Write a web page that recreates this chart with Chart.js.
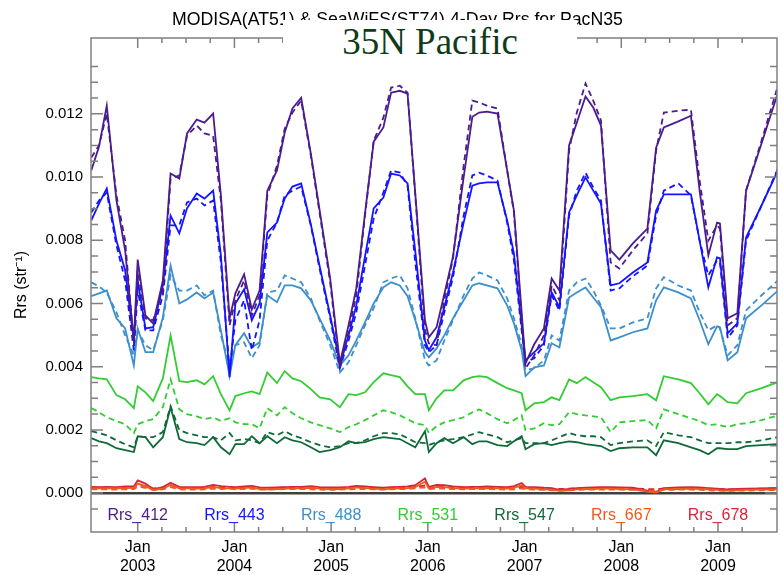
<!DOCTYPE html>
<html>
<head>
<meta charset="utf-8">
<script src="https://cdn.jsdelivr.net/npm/chart.js@4/dist/chart.umd.min.js"></script>
<style>
  body { margin: 0; background: #fff; }
  #wrap { position: relative; width: 783px; height: 575px; overflow: hidden; }
  #title { position: absolute; left: 0; width: 795px; top: 9px; text-align: center; white-space: nowrap;
           font: 17.7px "Liberation Sans", Arial, sans-serif; color: #000; }
  #stamp { position: absolute; left: 283px; top: 20px; width: 294px; height: 52px; background: #fff;
           text-align: center; line-height: 52px; font: 37px "Liberation Serif", "Times New Roman", serif; color: #103b1a; }
</style>
</head>
<body>
<div id="wrap">
  <canvas id="rrsChart" width="783" height="575"></canvas>
  <div id="title">MODISA(AT51) &amp; SeaWiFS(ST74) 4-Day Rrs for PacN35</div>
  <div id="stamp">35N Pacific</div>
</div>
<script>
// dates (decimal years) of the composites
const dates = [
  2002.52, 2002.60, 2002.68, 2002.78, 2002.87, 2002.96, 2003.00, 2003.08, 2003.16, 2003.26,
  2003.34, 2003.43, 2003.51, 2003.61, 2003.69, 2003.78, 2003.86, 2003.95, 2004.01, 2004.10,
  2004.18, 2004.26, 2004.34, 2004.44, 2004.52, 2004.60, 2004.69, 2004.79, 2004.88, 2004.99,
  2005.09, 2005.18, 2005.26, 2005.35, 2005.44, 2005.54, 2005.62, 2005.71, 2005.79, 2005.87,
  2005.97, 2006.01, 2006.09, 2006.17, 2006.26, 2006.37, 2006.46, 2006.53, 2006.61, 2006.72,
  2006.82, 2006.89, 2006.97, 2007.01, 2007.10, 2007.20, 2007.28, 2007.36, 2007.46, 2007.54,
  2007.63, 2007.71, 2007.79, 2007.89, 2007.98, 2008.12, 2008.27, 2008.36, 2008.44, 2008.59,
  2008.72, 2008.81, 2008.90, 2008.99, 2009.02, 2009.10, 2009.20, 2009.29, 2009.45, 2009.62
];

// MODISA (solid) and SeaWiFS (dashed) Rrs, str^-1
const rrs412Modis = [
  .01021,.01097,.01226,.00926,.00768,.00483,.00739,.00562,.00537,.00673,
  .01011,.00995,.01138,.01182,.01172,.01201,.00942,.00553,.00632,.00692,
  .00581,.00641,.00957,.01021,.01141,.01217,.01251,.01074,.00897,.00679,
  .00411,.00531,.00648,.00885,.01112,.01157,.01267,.01273,.01264,.00948,
  .00547,.00493,.00525,.00629,.00749,.00999,.01191,.01204,.01207,.01201,
  .01021,.00894,.00572,.00411,.00471,.00521,.00679,.00641,.01100,.01172,
  .01255,.01220,.01163,.00768,.00739,.00790,.00837,.01093,.01157,.01176,
  .01194,.00957,.00752,.00856,.00853,.00553,.00569,.00957,.01106,.01267
];
const rrs412Seawifs = [
  .01062,.01100,.01201,.00942,.00799,.00468,.00705,.00553,.00547,.00641,
  .00995,.01005,.01131,.01163,.01138,.01131,.00926,.00531,.00610,.00673,
  .00562,.00626,.00942,.01036,.01153,.01204,.01242,.01068,.00888,.00667,
  .00395,.00509,.00626,.00878,.01115,.01188,.01283,.01289,.01267,.00942,
  .00515,.00474,.00468,.00610,.00743,.01036,.01242,.01236,.01226,.01217,
  .01021,.00888,.00547,.00395,.00436,.00499,.00657,.00610,.01084,.01204,
  .01296,.01242,.01179,.00730,.00711,.00768,.00822,.01084,.01204,.01210,
  .01213,.00989,.00799,.00847,.00837,.00531,.00553,.00957,.01115,.01289
];
const rrs443Modis = [
  .00863,.00916,.00964,.00799,.00705,.00480,.00673,.00521,.00525,.00657,
  .00878,.00822,.00901,.00948,.00932,.00957,.00752,.00367,.00600,.00645,
  .00547,.00600,.00825,.00856,.00932,.00970,.00980,.00850,.00720,.00562,
  .00411,.00499,.00594,.00749,.00901,.00935,.01011,.01005,.00980,.00765,
  .00483,.00452,.00493,.00588,.00698,.00856,.00973,.00980,.00983,.00983,
  .00863,.00758,.00531,.00420,.00446,.00474,.00635,.00588,.00888,.00942,
  .00999,.00957,.00916,.00657,.00664,.00698,.00730,.00894,.00945,.00945,
  .00945,.00799,.00651,.00746,.00743,.00506,.00537,.00809,.00910,.01021
];
const rrs443Seawifs = [
  .00888,.00926,.00951,.00784,.00673,.00452,.00641,.00515,.00515,.00626,
  .00847,.00847,.00920,.00932,.00910,.00926,.00730,.00389,.00547,.00610,
  .00452,.00547,.00799,.00856,.00942,.00957,.00970,.00847,.00711,.00553,
  .00395,.00483,.00572,.00720,.00869,.00951,.01021,.01014,.00973,.00730,
  .00468,.00446,.00468,.00572,.00683,.00878,.01005,.01014,.01005,.00989,
  .00856,.00736,.00515,.00414,.00427,.00468,.00626,.00578,.00878,.00957,
  .01014,.00967,.00926,.00641,.00648,.00686,.00720,.00878,.00957,.00980,
  .00942,.00799,.00689,.00736,.00730,.00490,.00531,.00799,.00910,.01027
];
const rrs488Modis = [
  .00623,.00632,.00641,.00553,.00521,.00404,.00521,.00446,.00446,.00556,
  .00720,.00600,.00613,.00635,.00616,.00635,.00515,.00370,.00468,.00506,
  .00461,.00477,.00626,.00604,.00657,.00657,.00648,.00610,.00553,.00483,
  .00404,.00436,.00483,.00540,.00600,.00651,.00667,.00657,.00623,.00547,
  .00446,.00430,.00458,.00499,.00553,.00610,.00657,.00664,.00657,.00648,
  .00594,.00537,.00452,.00370,.00398,.00404,.00474,.00461,.00619,.00635,
  .00651,.00619,.00588,.00483,.00493,.00509,.00521,.00610,.00651,.00635,
  .00616,.00547,.00471,.00528,.00525,.00420,.00446,.00553,.00594,.00641
];
const rrs488Seawifs = [
  .00667,.00654,.00635,.00572,.00499,.00436,.00515,.00468,.00452,.00547,
  .00689,.00641,.00641,.00657,.00626,.00641,.00499,.00404,.00468,.00477,
  .00427,.00468,.00635,.00641,.00689,.00679,.00667,.00616,.00547,.00468,
  .00382,.00414,.00468,.00531,.00585,.00667,.00679,.00689,.00648,.00553,
  .00420,.00404,.00420,.00483,.00547,.00626,.00679,.00698,.00689,.00673,
  .00616,.00553,.00468,.00389,.00395,.00420,.00499,.00483,.00641,.00667,
  .00679,.00641,.00594,.00521,.00521,.00540,.00553,.00648,.00683,.00657,
  .00641,.00572,.00515,.00531,.00521,.00436,.00468,.00578,.00626,.00673
];
const rrs531Modis = [
  .00367,.00363,.00360,.00310,.00297,.00269,.00338,.00319,.00291,.00363,
  .00499,.00354,.00351,.00357,.00344,.00370,.00313,.00262,.00307,.00316,
  .00322,.00313,.00382,.00348,.00386,.00363,.00354,.00329,.00303,.00297,
  .00272,.00313,.00310,.00319,.00351,.00379,.00373,.00367,.00338,.00313,
  .00313,.00262,.00300,.00325,.00325,.00357,.00367,.00370,.00367,.00348,
  .00332,.00325,.00316,.00262,.00284,.00288,.00303,.00294,.00360,.00348,
  .00367,.00351,.00335,.00294,.00303,.00307,.00313,.00294,.00370,.00360,
  .00348,.00316,.00281,.00313,.00307,.00288,.00284,.00316,.00332,.00351
];
const rrs531Seawifs = [
  .00269,.00256,.00240,.00228,.00218,.00190,.00218,.00228,.00234,.00272,
  .00360,.00265,.00250,.00243,.00234,.00240,.00228,.00237,.00224,.00218,
  .00218,.00205,.00269,.00246,.00272,.00253,.00237,.00224,.00215,.00205,
  .00193,.00209,.00218,.00231,.00246,.00262,.00256,.00246,.00234,.00221,
  .00215,.00190,.00212,.00224,.00231,.00240,.00256,.00265,.00253,.00234,
  .00221,.00231,.00246,.00199,.00205,.00221,.00215,.00218,.00256,.00250,
  .00246,.00243,.00240,.00193,.00224,.00228,.00231,.00205,.00265,.00250,
  .00237,.00228,.00215,.00218,.00215,.00209,.00218,.00221,.00231,.00246
];
const rrs547Modis = [
  .00174,.00164,.00158,.00142,.00136,.00130,.00180,.00177,.00145,.00177,
  .00272,.00171,.00161,.00158,.00152,.00177,.00145,.00123,.00155,.00155,
  .00180,.00158,.00180,.00158,.00177,.00167,.00161,.00145,.00130,.00136,
  .00145,.00164,.00158,.00161,.00171,.00177,.00174,.00171,.00158,.00145,
  .00196,.00130,.00158,.00174,.00158,.00177,.00155,.00164,.00164,.00152,
  .00149,.00164,.00180,.00139,.00155,.00158,.00152,.00158,.00164,.00161,
  .00155,.00152,.00149,.00133,.00142,.00145,.00145,.00120,.00167,.00158,
  .00145,.00136,.00123,.00142,.00142,.00139,.00139,.00149,.00152,.00155
];
const rrs547Seawifs = [
  .00196,.00190,.00183,.00167,.00155,.00145,.00180,.00177,.00177,.00193,
  .00275,.00199,.00190,.00183,.00177,.00177,.00167,.00190,.00167,.00171,
  .00167,.00158,.00193,.00183,.00196,.00183,.00174,.00161,.00152,.00145,
  .00149,.00158,.00158,.00167,.00180,.00190,.00190,.00186,.00174,.00161,
  .00158,.00152,.00161,.00167,.00171,.00177,.00186,.00193,.00186,.00177,
  .00161,.00167,.00174,.00158,.00158,.00158,.00167,.00177,.00190,.00183,
  .00180,.00180,.00177,.00152,.00158,.00164,.00167,.00149,.00193,.00183,
  .00177,.00167,.00158,.00158,.00158,.00158,.00161,.00161,.00167,.00177
];
const rrs667Modis = [
  .00016,.00015,.00016,.00015,.00016,.00017,.00030,.00022,.00010,.00014,
  .00026,.00015,.00015,.00014,.00015,.00020,.00016,.00015,.00014,.00016,
  .00018,.00013,.00012,.00013,.00014,.00015,.00015,.00017,.00014,.00013,
  .00013,.00015,.00018,.00016,.00014,.00012,.00014,.00015,.00016,.00019,
  .00036,.00015,.00020,.00019,.00016,.00014,.00015,.00015,.00016,.00015,
  .00014,.00017,.00025,.00015,.00014,.00012,.00011,.00007,.00009,.00012,
  .00013,.00013,.00014,.00014,.00013,.00012,.00005,.00002,.00012,.00013,
  .00014,.00013,.00012,.00010,.00009,.00008,.00009,.00010,.00011,.00012
];
const rrs667Seawifs = [
  .00013,.00012,.00012,.00011,.00012,.00013,.00020,.00017,.00010,.00012,
  .00019,.00012,.00011,.00011,.00012,.00014,.00013,.00014,.00012,.00013,
  .00014,.00011,.00011,.00012,.00013,.00013,.00013,.00012,.00011,.00010,
  .00011,.00012,.00013,.00013,.00012,.00011,.00012,.00013,.00013,.00015,
  .00018,.00013,.00015,.00014,.00013,.00012,.00013,.00013,.00013,.00012,
  .00011,.00012,.00015,.00012,.00011,.00010,.00009,.00008,.00009,.00010,
  .00011,.00011,.00011,.00011,.00011,.00010,.00008,.00007,.00010,.00011,
  .00011,.00010,.00009,.00008,.00008,.00007,.00008,.00008,.00009,.00010
];
const rrs678Modis = [
  .00020,.00019,.00020,.00019,.00021,.00022,.00040,.00030,.00013,.00019,
  .00033,.00020,.00019,.00019,.00020,.00026,.00022,.00020,.00019,.00021,
  .00023,.00018,.00017,.00018,.00019,.00020,.00020,.00022,.00019,.00018,
  .00018,.00020,.00023,.00021,.00019,.00017,.00019,.00020,.00021,.00025,
  .00047,.00020,.00026,.00025,.00021,.00019,.00020,.00020,.00021,.00020,
  .00019,.00022,.00032,.00020,.00019,.00017,.00016,.00010,.00013,.00016,
  .00017,.00018,.00019,.00019,.00018,.00017,.00008,.00004,.00016,.00018,
  .00019,.00018,.00016,.00014,.00013,.00012,.00013,.00014,.00015,.00017
];
const rrs678Seawifs = [
  .00018,.00017,.00016,.00016,.00017,.00018,.00026,.00022,.00015,.00017,
  .00025,.00017,.00016,.00016,.00017,.00019,.00018,.00019,.00017,.00018,
  .00019,.00016,.00016,.00017,.00018,.00018,.00018,.00017,.00016,.00015,
  .00016,.00017,.00018,.00018,.00017,.00016,.00017,.00018,.00018,.00020,
  .00024,.00018,.00020,.00019,.00018,.00017,.00018,.00018,.00018,.00017,
  .00016,.00017,.00020,.00017,.00016,.00015,.00014,.00013,.00014,.00015,
  .00016,.00016,.00016,.00016,.00016,.00015,.00013,.00012,.00015,.00016,
  .00016,.00015,.00014,.00013,.00013,.00012,.00013,.00013,.00014,.00015
];

const bandNames = ['Rrs_412', 'Rrs_443', 'Rrs_488', 'Rrs_531', 'Rrs_547', 'Rrs_667', 'Rrs_678'];
const bandColors = ['#4b1c8e', '#1414ff', '#3d8fcc', '#33cc33', '#0f6a38', '#ee5a1e', '#d8243a'];
const modisSeries = [rrs412Modis, rrs443Modis, rrs488Modis, rrs531Modis, rrs547Modis, rrs667Modis, rrs678Modis];
const seawifsSeries = [rrs412Seawifs, rrs443Seawifs, rrs488Seawifs, rrs531Seawifs, rrs547Seawifs, rrs667Seawifs, rrs678Seawifs];

const xMin = 2002.517, xMax = 2009.61;
const yMin = -0.00123, yMax = 0.0144;
const FONT = '"Liberation Sans", Arial, sans-serif';

const near = (v, step) => Math.abs(v / step - Math.round(v / step)) < 1e-6;

let datasets = [];
bandNames.forEach((name, b) => {
  datasets.push({
    label: name + ' MODISA',
    data: dates.map((d, i) => ({ x: d, y: modisSeries[b][i] })),
    borderColor: bandColors[b], borderWidth: 1.8, pointRadius: 0, tension: 0
  });
  datasets.push({
    label: name + ' SeaWiFS',
    data: dates.map((d, i) => ({ x: d, y: seawifsSeries[b][i] })),
    borderColor: bandColors[b], borderWidth: 1.8, borderDash: [6, 4], pointRadius: 0, tension: 0
  });
});

// frame + inward tick marks on all four sides
const frameTicks = {
  id: 'frameTicks',
  afterDatasetsDraw(chart) {
    const { ctx, chartArea: a, scales: { x, y } } = chart;
    ctx.save();
    ctx.strokeStyle = '#808080';
    ctx.lineWidth = 1.5;
    ctx.strokeRect(a.left, a.top, a.right - a.left, a.bottom - a.top);
    ctx.beginPath();
    y.ticks.forEach(t => {
      if (!near(t.value, 0.0005)) return;
      const py = y.getPixelForValue(t.value);
      const len = near(t.value, 0.002) ? 12 : 7;
      ctx.moveTo(a.left, py); ctx.lineTo(a.left + len, py);
      ctx.moveTo(a.right, py); ctx.lineTo(a.right - len, py);
    });
    x.ticks.forEach(t => {
      if (!near(t.value, 0.25)) return;
      const px = x.getPixelForValue(t.value);
      const len = near(t.value, 1) ? 10 : 5;
      ctx.moveTo(px, a.bottom); ctx.lineTo(px, a.bottom - len);
      ctx.moveTo(px, a.top); ctx.lineTo(px, a.top + len);
    });
    ctx.stroke();
    ctx.restore();
  }
};

// band names written inside the plot, one under each January
const bandLegend = {
  id: 'bandLegend',
  afterDatasetsDraw(chart) {
    const { ctx, chartArea: a, scales: { x } } = chart;
    ctx.save();
    ctx.font = '16px ' + FONT;
    ctx.textAlign = 'center';
    ctx.textBaseline = 'middle';
    bandNames.forEach((name, i) => {
      ctx.fillStyle = bandColors[i];
      ctx.fillText(name, x.getPixelForValue(2003 + i), a.bottom - 16);
    });
    ctx.restore();
  }
};

new Chart(document.getElementById('rrsChart'), {
  type: 'line',
  data: { datasets: datasets },
  options: {
    responsive: false,
    animation: false,
    devicePixelRatio: 1,
    layout: { padding: { top: 38, right: 1, left: 0, bottom: 0 } },
    plugins: { legend: { display: false }, title: { display: false }, tooltip: { enabled: false } },
    scales: {
      x: {
        type: 'linear', min: xMin, max: xMax,
        afterFit: s => { s.height = 43; },
        grid: { display: false, drawTicks: false },
        border: { display: false },
        ticks: {
          stepSize: 0.25, autoSkip: false, maxRotation: 0, minRotation: 0, padding: 6, color: '#000',
          font: { family: FONT, size: 16 },
          callback: v => near(v, 1) ? ['Jan', String(Math.round(v))] : ''
        }
      },
      y: {
        type: 'linear', min: yMin, max: yMax,
        afterFit: s => { s.width = 91; },
        border: { display: false },
        grid: {
          drawTicks: false,
          color: c => Math.abs(c.tick.value) < 1e-9 ? '#404040' : 'rgba(0,0,0,0)',
          lineWidth: c => Math.abs(c.tick.value) < 1e-9 ? 2.5 : 1
        },
        ticks: {
          stepSize: 0.0005, autoSkip: false, padding: 8, color: '#000',
          font: { family: FONT, size: 15 },
          callback: v => (near(v, 0.002) && v > -1e-9) ? v.toFixed(3) : ''
        },
        title: {
          display: true, text: 'Rrs (str⁻¹)', color: '#000',
          font: { family: FONT, size: 16 }, padding: { top: 12, bottom: 0 }
        }
      }
    }
  },
  plugins: [frameTicks, bandLegend]
});
</script>
</body>
</html>
